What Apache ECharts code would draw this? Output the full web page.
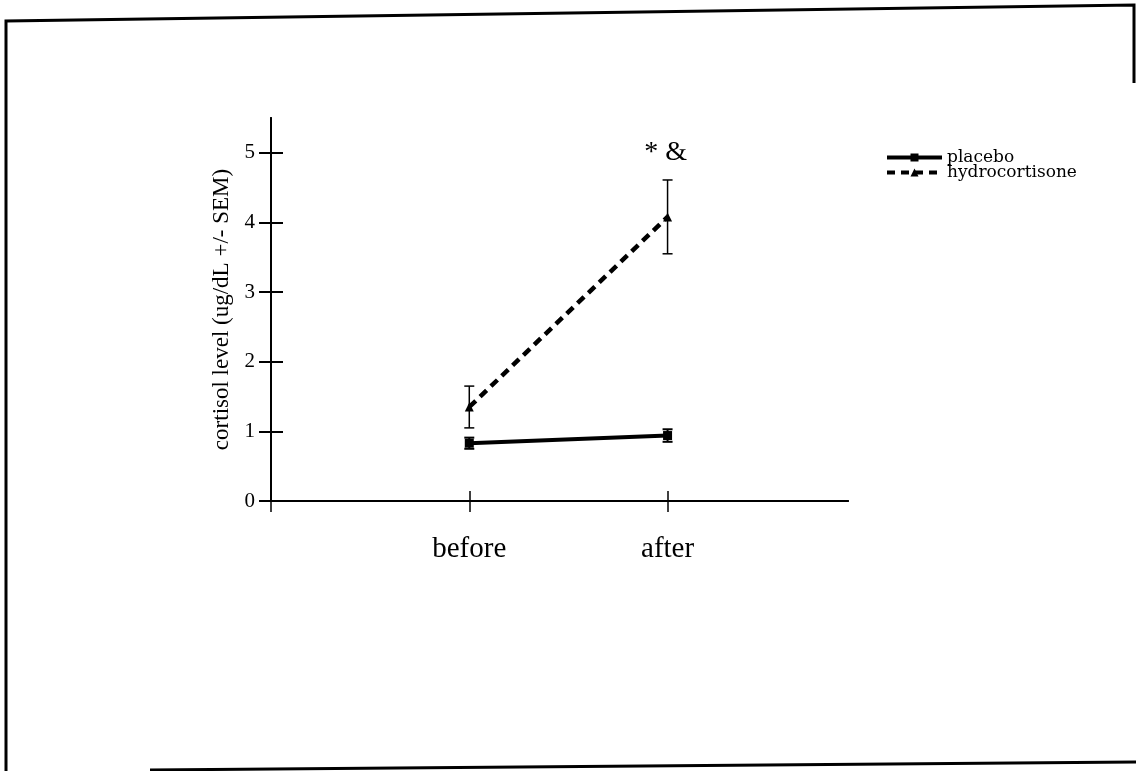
<!DOCTYPE html>
<html>
<head>
<meta charset="utf-8">
<script src="https://cdn.jsdelivr.net/npm/echarts@6/dist/echarts.min.js"></script>
<style>html,body{margin:0;padding:0;background:#fff;}#c{width:1136px;height:771px;}</style>
</head>
<body>
<div id="c"></div>
<script>
const categories = ['before', 'after'];
const placebo = [0.83, 0.94];
const placeboSem = [0.08, 0.09];
const hydrocortisone = [1.35, 4.08];
const hydrocortisoneSem = [0.3, 0.53];
const yTicks = [0, 1, 2, 3, 4, 5];
const annotation = '* &';

const FONT = '"Liberation Serif", "DejaVu Serif", serif';
const chart = echarts.init(document.getElementById('c'));

const xPos = categories.map((c, i) => i + 1);
const pts = (vals) => vals.map((v, i) => [xPos[i], v]);
const errs = (vals, sem) => vals.map((v, i) => [xPos[i], v - sem[i], v + sem[i]]);

function errRender(cap, width) {
  return function (params, api) {
    const x = api.value(0);
    const lo = api.coord([x, api.value(1)]);
    const hi = api.coord([x, api.value(2)]);
    const st = { stroke: '#000', lineWidth: width };
    return {
      type: 'group',
      children: [
        { type: 'line', shape: { x1: lo[0], y1: lo[1], x2: hi[0], y2: hi[1] }, style: st },
        { type: 'line', shape: { x1: lo[0] - cap, y1: lo[1], x2: lo[0] + cap, y2: lo[1] }, style: st },
        { type: 'line', shape: { x1: hi[0] - cap, y1: hi[1], x2: hi[0] + cap, y2: hi[1] }, style: st }
      ]
    };
  };
}

const axisLineStyle = { color: '#000', width: 2 };
const baseY = {
  type: 'value', min: 0, max: 5.5, interval: 1,
  splitLine: { show: false },
  axisLine: { show: true, lineStyle: axisLineStyle }
};
const baseX = {
  type: 'value', min: 0, max: 2.91, interval: 1,
  splitLine: { show: false },
  axisLine: { show: true, onZero: false, lineStyle: axisLineStyle }
};

chart.setOption({
  animation: false,
  backgroundColor: '#fff',
  grid: { left: 271, right: 288, top: 118, bottom: 270 },
  legend: {
    orient: 'vertical', left: 880, top: 144, itemWidth: 55, itemHeight: 10, itemGap: -2,
    textStyle: { fontFamily: '"DejaVu Serif", serif', fontSize: 17, color: '#000' },
    data: [
      { name: 'placebo', lineStyle: { width: 4, color: '#000' } },
      { name: 'hydrocortisone', lineStyle: { width: 4, color: '#000', type: [8, 6] } }
    ]
  },
  xAxis: [
    Object.assign({}, baseX, {
      axisTick: { show: true, inside: false, length: 11, lineStyle: { color: '#000', width: 1.5 }, customValues: [0, 1, 2] },
      axisLabel: {
        show: true, margin: 34, customValues: xPos,
        formatter: (v) => categories[Math.round(v) - 1] || '',
        fontFamily: FONT, fontSize: 29, color: '#000'
      }
    }),
    Object.assign({}, baseX, {
      position: 'bottom',
      axisTick: { show: true, inside: true, length: 10, lineStyle: { color: '#000', width: 1.5 }, customValues: xPos },
      axisLabel: { show: false }
    })
  ],
  yAxis: [
    Object.assign({}, baseY, {
      name: 'cortisol level (ug/dL +/- SEM)',
      nameLocation: 'middle', nameGap: 34, nameRotate: 90,
      nameTextStyle: { fontFamily: FONT, fontSize: 23, color: '#000' },
      axisTick: { show: true, inside: false, length: 12, lineStyle: { color: '#000', width: 2 }, customValues: yTicks },
      axisLabel: { show: true, margin: 16, customValues: yTicks, fontFamily: FONT, fontSize: 21, color: '#000' }
    }),
    Object.assign({}, baseY, {
      position: 'left',
      axisTick: { show: true, inside: true, length: 12, lineStyle: { color: '#000', width: 2 }, customValues: yTicks },
      axisLabel: { show: false }
    })
  ],
  series: [
    {
      name: 'placebo', type: 'line', data: pts(placebo),
      symbol: 'rect', symbolSize: 9,
      itemStyle: { color: '#000' },
      lineStyle: { color: '#000', width: 4 }, z: 3
    },
    {
      name: 'hydrocortisone', type: 'line', data: pts(hydrocortisone),
      symbol: 'triangle', symbolSize: 9,
      itemStyle: { color: '#000' },
      lineStyle: { color: '#000', width: 4.5, type: [9, 6] }, z: 3,
      markPoint: {
        symbol: 'circle', symbolSize: 1, itemStyle: { color: 'rgba(0,0,0,0)' },
        label: { show: true, formatter: annotation, fontFamily: FONT, fontSize: 28, color: '#000', position: 'inside' },
        data: [{ coord: [xPos[1] - 0.01, 5.0] }]
      }
    },
    {
      type: 'custom', name: 'placeboErr', data: errs(placebo, placeboSem),
      renderItem: errRender(5, 2), z: 4, silent: true
    },
    {
      type: 'custom', name: 'hydroErr', data: errs(hydrocortisone, hydrocortisoneSem),
      renderItem: errRender(5, 1.5), z: 4, silent: true
    }
  ],
  graphic: [
    {
      type: 'polyline', silent: true,
      shape: { points: [[6, 771], [6, 21], [1134, 5], [1134, 83]] },
      style: { stroke: '#000', lineWidth: 3, fill: null }
    },
    {
      type: 'line', silent: true,
      shape: { x1: 150, y1: 770, x2: 1136, y2: 762 },
      style: { stroke: '#000', lineWidth: 3 }
    }
  ]
});
</script>
</body>
</html>
